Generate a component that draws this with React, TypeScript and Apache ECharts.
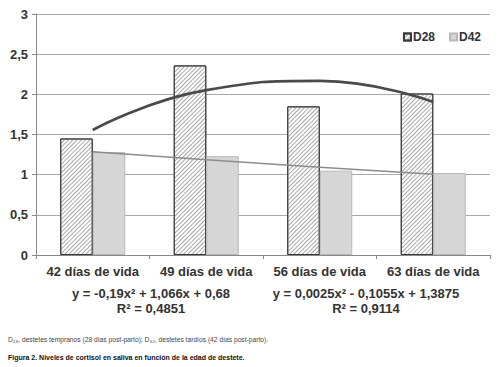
import React, { useEffect, useRef } from "react";
import * as echarts from "echarts";

const categories = ["42 días de vida", "49 días de vida", "56 días de vida", "63 días de vida"];
const d28Values = [1.45, 2.36, 1.85, 2.01];
const d42Values = [1.28, 1.23, 1.05, 1.02];
const d28Trend = [1.556, 2.052, 2.168, 1.904];
const d42Trend = [1.285, 1.186, 1.093, 1.005];
const eqD28 = ["y = -0,19x² + 1,066x + 0,68", "R² = 0,4851"];
const eqD42 = ["y = 0,0025x² - 0,1055x + 1,3875", "R² = 0,9114"];
const footnote = "D₂₈, destetes tempranos (28 días post-parto); D₄₂, destetes tardíos (42 días post-parto).";
const caption = "Figura 2. Niveles de cortisol en saliva en función de la edad de destete.";

const FONT = "'Liberation Sans', Arial, sans-serif";

export default function App() {
  const ref = useRef<HTMLDivElement>(null);
  useEffect(() => {
    if (!ref.current) return;
    const chart = echarts.init(ref.current, null, { renderer: "svg" });
    const hatch = {
      symbol: "rect",
      dashArrayX: [1, 0],
      dashArrayY: [1, 2],
      rotation: -Math.PI / 4,
      color: "#a8a8a8",
      symbolSize: 1,
    };
    chart.setOption({
      animation: false,
      backgroundColor: "#ffffff",
      textStyle: { fontFamily: FONT },
      grid: { left: 36, right: 10, top: 14, bottom: 112, containLabel: false },
      legend: {
        data: ["D28", "D42"],
        right: 14,
        top: 26,
        itemWidth: 7,
        itemHeight: 7,
        itemGap: 14,
        icon: "rect",
        textStyle: { fontFamily: FONT, fontWeight: "bold", fontSize: 12, color: "#333", padding: [0, 0, 0, -3] },
      },
      xAxis: {
        type: "category",
        data: categories,
        axisLine: { lineStyle: { color: "#888", width: 1 } },
        axisTick: { show: true, length: 4, lineStyle: { color: "#888" } },
        axisLabel: { interval: 0, fontFamily: FONT, fontWeight: "bold", fontSize: 13, color: "#333", margin: 10 },
      },
      yAxis: {
        type: "value",
        min: 0,
        max: 3,
        interval: 0.5,
        axisLine: { show: true, lineStyle: { color: "#888", width: 1 } },
        axisTick: { show: true, length: 4, lineStyle: { color: "#888" } },
        splitLine: { lineStyle: { color: "#a8a8a8", width: 1.2 } },
        axisLabel: {
          fontFamily: FONT,
          fontWeight: "bold",
          fontSize: 13,
          color: "#333",
          margin: 8,
          formatter: (v: number) => String(v).replace(".", ","),
        },
      },
      series: [
        {
          name: "D28",
          type: "bar",
          data: d28Values,
          barWidth: 32.5,
          barGap: "0%",
          itemStyle: { color: "#ffffff", borderColor: "#3a3a3a", borderWidth: 1, decal: hatch },
          z: 2,
        },
        {
          name: "D42",
          type: "bar",
          data: d42Values,
          barWidth: 32.5,
          itemStyle: { color: "#d6d6d6", borderColor: "#b8b8b8", borderWidth: 1 },
          z: 2,
        },
        {
          name: "trendD28",
          type: "line",
          data: d28Trend,
          smooth: 0.5,
          symbol: "none",
          lineStyle: { color: "#4a4a4a", width: 2.6 },
          z: 5,
        },
        {
          name: "trendD42",
          type: "line",
          data: d42Trend,
          smooth: 0.5,
          symbol: "none",
          lineStyle: { color: "#8c8c8c", width: 1.5 },
          z: 5,
        },
      ],
      graphic: [
        { type: "text", x: 151, y: 293, style: { text: eqD28[0], font: `bold 13px ${FONT}`, fill: "#333", align: "center", verticalAlign: "middle" } },
        { type: "text", x: 151, y: 308, style: { text: eqD28[1], font: `bold 13px ${FONT}`, fill: "#333", align: "center", verticalAlign: "middle" } },
        { type: "text", x: 366, y: 293, style: { text: eqD42[0], font: `bold 13px ${FONT}`, fill: "#333", align: "center", verticalAlign: "middle" } },
        { type: "text", x: 366, y: 308, style: { text: eqD42[1], font: `bold 13px ${FONT}`, fill: "#333", align: "center", verticalAlign: "middle" } },
        { type: "text", x: 8, y: 339, style: { text: footnote, font: `6.7px ${FONT}`, fill: "#444", verticalAlign: "middle" } },
        { type: "text", x: 8, y: 357, style: { text: caption, font: `bold 7px ${FONT}`, fill: "#111", verticalAlign: "middle" } },
      ],
    });
    return () => chart.dispose();
  }, []);
  return <div ref={ref} style={{ width: 500, height: 367, position: "absolute", left: 0, top: 0 }} />;
}
